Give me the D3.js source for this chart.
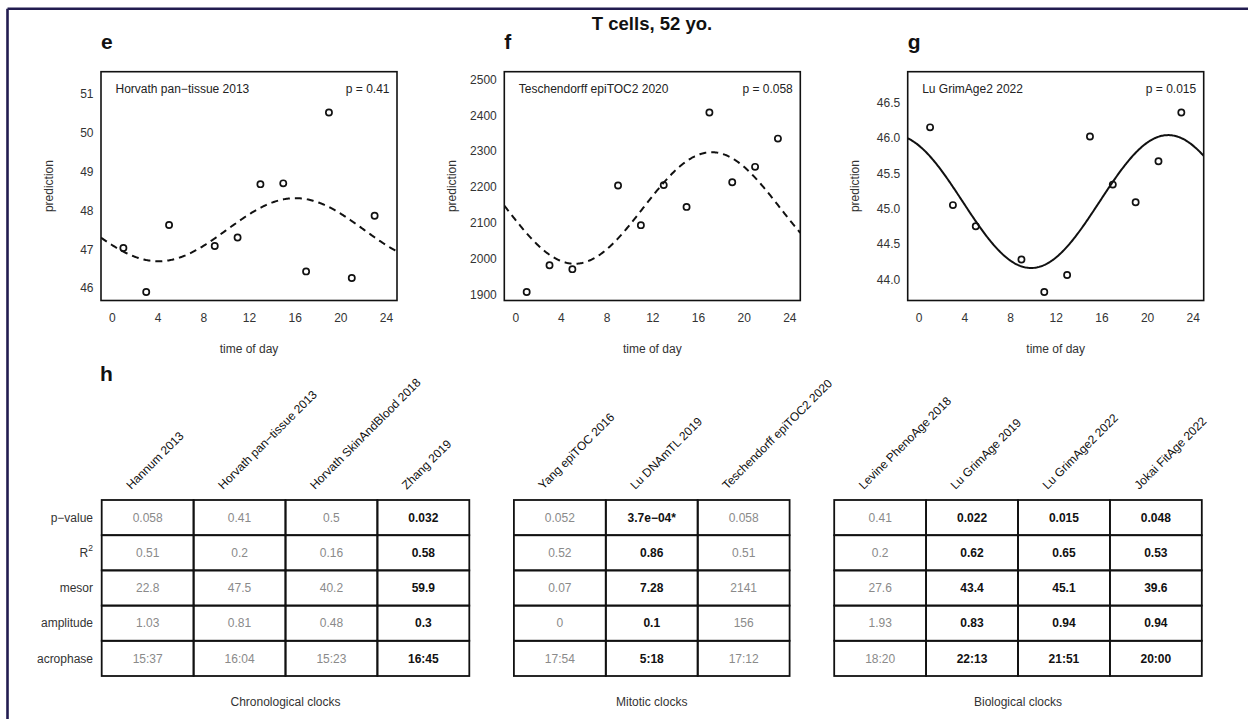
<!DOCTYPE html>
<html>
<head>
<meta charset="utf-8">
<script src="https://cdn.jsdelivr.net/npm/d3@7"></script>
<style>
  body { margin: 0; background: #fff; }
  svg { display: block; font-family: "Liberation Sans", Arial, Helvetica, sans-serif; }
</style>
</head>
<body>
<svg id="fig" width="1248" height="719"></svg>
<script>
// ---- sampling times (hours) and clock predictions per sample ----
const hours = [1, 3, 5, 9, 11, 13, 15, 17, 19, 21, 23];
const horvathPanTissue = [47.03, 45.90, 47.62, 47.08, 47.30, 48.67, 48.69, 46.43, 50.51, 46.26, 47.86];
const teschendorffEpiTOC2 = [1906, 1981, 1970, 2204, 2093, 2205, 2144, 2408, 2213, 2256, 2335];
const luGrimAge2 = [46.15, 45.05, 44.75, 44.28, 43.82, 44.06, 46.02, 45.34, 45.09, 45.67, 46.36];

// ---- axis ticks ----
const xTicks = [0, 4, 8, 12, 16, 20, 24];
const yTicksE = [46, 47, 48, 49, 50, 51];
const yTicksF = [1900, 2000, 2100, 2200, 2300, 2400, 2500];
const yTicksG = [44.0, 44.5, 45.0, 45.5, 46.0, 46.5];

// ---- cosinor summary table ----
const clockNames = ["Hannum 2013", "Horvath pan\u2212tissue 2013", "Horvath SkinAndBlood 2018", "Zhang 2019",
                    "Yang epiTOC 2016", "Lu DNAmTL 2019", "Teschendorff epiTOC2 2020",
                    "Levine PhenoAge 2018", "Lu GrimAge 2019", "Lu GrimAge2 2022", "Jokai FitAge 2022"];
const clockGroup = [0, 0, 0, 0, 1, 1, 1, 2, 2, 2, 2];
const groupNames = ["Chronological clocks", "Mitotic clocks", "Biological clocks"];
const rowLabels = ["p\u2212value", "R2", "mesor", "amplitude", "acrophase"];
const pValues = ["0.058", "0.41", "0.5", "0.032", "0.052", "3.7e\u221204*", "0.058", "0.41", "0.022", "0.015", "0.048"];
const r2Values = ["0.51", "0.2", "0.16", "0.58", "0.52", "0.86", "0.51", "0.2", "0.62", "0.65", "0.53"];
const mesorValues = ["22.8", "47.5", "40.2", "59.9", "0.07", "7.28", "2141", "27.6", "43.4", "45.1", "39.6"];
const amplitudeValues = ["1.03", "0.81", "0.48", "0.3", "0", "0.1", "156", "1.93", "0.83", "0.94", "0.94"];
const acrophaseValues = ["15:37", "16:04", "15:23", "16:45", "17:54", "5:18", "17:12", "18:20", "22:13", "21:51", "20:00"];
const significant = [false, false, false, true, false, true, false, false, true, true, true];

const svg = d3.select("#fig");

// outer frame (top and left edges)
svg.append("line").attr("x1", 7.5).attr("y1", 8.7).attr("x2", 1248).attr("y2", 8.7)
  .attr("stroke", "#221c50").attr("stroke-width", 2.6);
svg.append("line").attr("x1", 7.5).attr("y1", 8.7).attr("x2", 7.5).attr("y2", 719)
  .attr("stroke", "#221c50").attr("stroke-width", 2.6);

svg.append("text").attr("x", 652).attr("y", 29.5).attr("text-anchor", "middle")
  .attr("font-size", 18.5).attr("font-weight", "bold").attr("fill", "#111").text("T cells, 52 yo.");

function parseHM(s) { const [h, m] = s.split(":").map(Number); return h + m / 60; }

// one scatter panel with its fitted cosinor curve
function panel(opts) {
  const { left, letter, name, pText, values, yTicks, yFmt, clock } = opts;
  const top = 71.7, bottom = 300.5, width = 296;
  const g = svg.append("g");
  const x = d3.scaleLinear().domain([-0.96, 24.96]).range([left, left + width]);
  const lo = d3.min(values), hi0 = d3.max(values);
  const hi = hi0 + 0.18 * (hi0 - lo);
  const pad = 0.04 * (hi - lo);
  const y = d3.scaleLinear().domain([lo - pad, hi + pad]).range([bottom, top]);

  g.append("text").attr("x", left).attr("y", 48.5).attr("font-size", 21).attr("font-weight", "bold")
    .attr("fill", "#111").text(letter);

  const clipId = "clip-" + letter;
  g.append("clipPath").attr("id", clipId).append("rect")
    .attr("x", left).attr("y", top).attr("width", width).attr("height", bottom - top);

  // fitted curve from mesor / amplitude / acrophase
  const mesor = +mesorValues[clock], amp = +amplitudeValues[clock], phi = parseHM(acrophaseValues[clock]);
  const tGrid = d3.range(-0.96, 24.97, 0.08);
  const line = d3.line().x(t => x(t)).y(t => y(mesor + amp * Math.cos(2 * Math.PI * (t - phi) / 24)));
  g.append("path").datum(tGrid).attr("d", line).attr("clip-path", `url(#${clipId})`)
    .attr("fill", "none").attr("stroke", "#111").attr("stroke-width", 2)
    .attr("stroke-dasharray", significant[clock] ? null : "7,5");

  g.selectAll("circle").data(hours).join("circle")
    .attr("cx", d => x(d)).attr("cy", (d, i) => y(values[i])).attr("r", 3.1)
    .attr("fill", "none").attr("stroke", "#111").attr("stroke-width", 1.7);

  g.append("rect").attr("x", left).attr("y", top).attr("width", width).attr("height", bottom - top)
    .attr("fill", "none").attr("stroke", "#111").attr("stroke-width", 1.6);

  // axes: labels only
  const xAxis = d3.axisBottom(x).tickValues(xTicks).tickSize(0).tickPadding(13);
  const xg = g.append("g").attr("transform", `translate(0,${bottom})`).call(xAxis);
  const yAxis = d3.axisLeft(y).tickValues(yTicks).tickSize(0).tickPadding(7.5).tickFormat(yFmt);
  const yg = g.append("g").attr("transform", `translate(${left},0)`).call(yAxis);
  [xg, yg].forEach(a => {
    a.select(".domain").remove();
    a.selectAll("text").attr("font-size", 12).attr("fill", "#333").attr("font-family", null);
  });
  xg.selectAll("text").attr("dy", "0.71em");

  g.append("text").attr("x", left + width / 2).attr("y", 353).attr("text-anchor", "middle")
    .attr("font-size", 12).attr("fill", "#333").text("time of day");
  g.append("text").attr("transform", `translate(${left - 52.7},${(top + bottom) / 2}) rotate(-90)`)
    .attr("text-anchor", "middle").attr("dy", "0.35em").attr("font-size", 12).attr("fill", "#333").text("prediction");

  g.append("text").attr("x", left + 14.5).attr("y", 93.3).attr("font-size", 12).attr("fill", "#222").text(name);
  g.append("text").attr("x", left + width - 7.5).attr("y", 93.3).attr("text-anchor", "end")
    .attr("font-size", 12).attr("fill", "#222").text(pText);
}

panel({ left: 101, letter: "e", name: clockNames[1], pText: "p = " + pValues[1],
        values: horvathPanTissue, yTicks: yTicksE, yFmt: d3.format("d"), clock: 1 });
panel({ left: 504.3, letter: "f", name: clockNames[6], pText: "p = " + pValues[6],
        values: teschendorffEpiTOC2, yTicks: yTicksF, yFmt: d3.format("d"), clock: 6 });
panel({ left: 907.7, letter: "g", name: clockNames[9], pText: "p = " + pValues[9],
        values: luGrimAge2, yTicks: yTicksG, yFmt: d3.format(".1f"), clock: 9 });

// ---- table h ----
svg.append("text").attr("x", 100).attr("y", 380.5).attr("font-size", 21).attr("font-weight", "bold")
  .attr("fill", "#111").text("h");

const colW = 91.9, gap = 44.6, tableLeft = 101.7;
const colX = clockNames.map((d, i) => tableLeft + i * colW + clockGroup[i] * gap);
const rows = [pValues, r2Values, mesorValues, amplitudeValues, acrophaseValues];
const rowY = d3.scaleBand().domain(d3.range(rows.length)).range([500, 676]);

const tbl = svg.append("g");
// cells
rows.forEach((vals, r) => {
  vals.forEach((v, c) => {
    tbl.append("rect").attr("x", colX[c]).attr("y", rowY(r)).attr("width", colW).attr("height", rowY.bandwidth())
      .attr("fill", "none").attr("stroke", "#111").attr("stroke-width", 1.8);
    tbl.append("text").attr("x", colX[c] + colW / 2).attr("y", rowY(r) + rowY.bandwidth() / 2 + 4.2)
      .attr("text-anchor", "middle").attr("font-size", 12)
      .attr("font-weight", significant[c] ? "bold" : "normal")
      .attr("fill", significant[c] ? "#111" : "#8a8a8a").text(v);
  });
});

// row labels
rowLabels.forEach((lab, r) => {
  const t = tbl.append("text").attr("x", 93).attr("y", rowY(r) + rowY.bandwidth() / 2 + 4.2)
    .attr("text-anchor", "end").attr("font-size", 12).attr("fill", "#333");
  if (lab === "R2") {
    t.append("tspan").text("R");
    t.append("tspan").attr("dy", -6).attr("font-size", 8.5).text("2");
  } else {
    t.text(lab);
  }
});

// rotated column headers
clockNames.forEach((n, c) => {
  tbl.append("text").attr("transform", `translate(${colX[c] + colW / 2 - 16.5},490) rotate(-45)`)
    .attr("font-size", 12).attr("fill", "#111").text(n);
});

// group captions
groupNames.forEach((gname, k) => {
  const idx = clockGroup.map((g, i) => g === k ? i : -1).filter(i => i >= 0);
  const x0 = colX[idx[0]], x1 = colX[idx[idx.length - 1]] + colW;
  tbl.append("text").attr("x", (x0 + x1) / 2).attr("y", 706).attr("text-anchor", "middle")
    .attr("font-size", 12).attr("fill", "#333").text(gname);
});
</script>
</body>
</html>
